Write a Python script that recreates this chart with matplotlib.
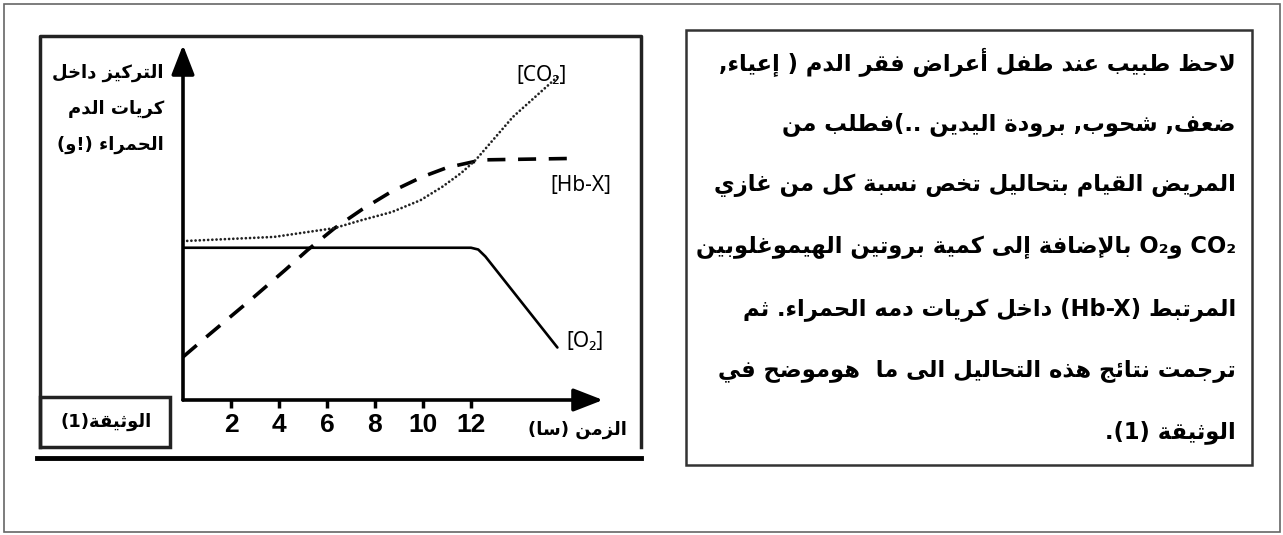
import re
import matplotlib
matplotlib.use('Agg')
import matplotlib.pyplot as plt
from matplotlib.patches import Rectangle
from matplotlib.lines import Line2D

W, H = 1283, 535

tick_hours = [2, 4, 6, 8, 10, 12]
o2_t = [0, 12.0, 12.3, 12.6, 15.6]
o2_c = [4.35, 4.35, 4.3, 4.1, 1.5]
hbx_t = [0, 1.04, 2.9, 4.25, 5.2, 6.3, 7.45, 8.7, 9.95, 11.0, 12.45, 16.05]
hbx_c = [1.23, 1.84, 2.91, 3.71, 4.29, 4.9, 5.44, 5.96, 6.37, 6.64, 6.86, 6.9]
co2_t = [0, 3.8, 6.3, 7.45, 8.7, 9.9, 10.8, 11.6, 12.2, 13.75, 15.6]
co2_c = [4.54, 4.66, 4.91, 5.14, 5.37, 5.71, 6.09, 6.49, 6.86, 8.09, 9.23]

y_label = ['التركيز داخل', 'كريات الدم', 'الحمراء (!و)']
x_label = 'الزمن (سا)'
doc_label = 'الوثيقة(1)'
paragraph = [
    'لاحظ طبيب عند طفل أعراض فقر الدم ( إعياء,',
    'ضعف, شحوب, برودة اليدين ..)فطلب من',
    'المريض القيام بتحاليل تخص نسبة كل من غازي',
    'CO\u2082 وO\u2082 بالإضافة إلى كمية بروتين الهيموغلوبين',
    'المرتبط (Hb-X) داخل كريات دمه الحمراء. ثم',
    'ترجمت نتائج هذه التحاليل الى ما  هوموضح في',
    'الوثيقة (1).',
]

# --- minimal arabic shaping + right-to-left ordering (no bidi lib available)
_tab = [(0x621, 0xFE80, 1), (0x622, 0xFE81, 2), (0x623, 0xFE83, 2), (0x624, 0xFE85, 2),
        (0x625, 0xFE87, 2), (0x626, 0xFE89, 4), (0x627, 0xFE8D, 2), (0x628, 0xFE8F, 4),
        (0x629, 0xFE93, 2), (0x62A, 0xFE95, 4), (0x62B, 0xFE99, 4), (0x62C, 0xFE9D, 4),
        (0x62D, 0xFEA1, 4), (0x62E, 0xFEA5, 4), (0x62F, 0xFEA9, 2), (0x630, 0xFEAB, 2),
        (0x631, 0xFEAD, 2), (0x632, 0xFEAF, 2), (0x633, 0xFEB1, 4), (0x634, 0xFEB5, 4),
        (0x635, 0xFEB9, 4), (0x636, 0xFEBD, 4), (0x637, 0xFEC1, 4), (0x638, 0xFEC5, 4),
        (0x639, 0xFEC9, 4), (0x63A, 0xFECD, 4), (0x641, 0xFED1, 4), (0x642, 0xFED5, 4),
        (0x643, 0xFED9, 4), (0x644, 0xFEDD, 4), (0x645, 0xFEE1, 4), (0x646, 0xFEE5, 4),
        (0x647, 0xFEE9, 4), (0x648, 0xFEED, 2), (0x649, 0xFEEF, 2), (0x64A, 0xFEF1, 4)]
FORMS = {chr(c): [chr(s + k) for k in range(n)] for c, s, n in _tab}
LAM_ALEF = {'\u0622': 0xFEF5, '\u0623': 0xFEF7, '\u0625': 0xFEF9, '\u0627': 0xFEFB}
MIRROR = str.maketrans('()[]', ')(][')


def shape(s):
    out, i, n = [], 0, len(s)
    while i < n:
        c = s[i]
        if c not in FORMS:
            out.append(c)
            i += 1
            continue
        prev = i > 0 and len(FORMS.get(s[i - 1], [])) == 4 and len(FORMS[c]) > 1
        if c == '\u0644' and i + 1 < n and s[i + 1] in LAM_ALEF:
            out.append(chr(LAM_ALEF[s[i + 1]] + (1 if prev else 0)))
            i += 2
            continue
        nxt = len(FORMS[c]) == 4 and i + 1 < n and len(FORMS.get(s[i + 1], [])) > 1
        out.append(FORMS[c][3 if prev and nxt else 1 if prev else 2 if nxt else 0])
        i += 1
    return ''.join(out)


def ar(s):
    parts = re.split(r'([A-Za-z0-9\u2082]+(?:-[A-Za-z0-9\u2082]+)*)', shape(s))
    out = []
    for j in range(len(parts) - 1, -1, -1):
        p = parts[j]
        out.append(p if j % 2 else p[::-1].translate(MIRROR))
    return ''.join(out)


def fx(x):
    return x / W


def fy(y):
    return 1 - y / H


fig = plt.figure(figsize=(W / 100, H / 100), dpi=100)
fig.patch.set_facecolor('white')
AR = ['DejaVu Sans']
NUM = ['Liberation Sans', 'DejaVu Sans']

# frames
fig.add_artist(Rectangle((fx(4), fy(532)), fx(1276), 528 / H, fill=False,
                         ec='#666666', lw=1.2, transform=fig.transFigure))
fig.add_artist(Line2D([fx(40), fx(40), fx(641), fx(641)], [fy(447), fy(36), fy(36), fy(447)],
                      color='#222222', lw=2.5, transform=fig.transFigure))
fig.add_artist(Line2D([fx(37), fx(641)], [fy(458), fy(458)], color='black', lw=3.5,
                      transform=fig.transFigure))
fig.add_artist(Rectangle((fx(40), fy(447)), fx(130), 50 / H, fill=False, ec='#222222', lw=2.5,
                         transform=fig.transFigure))
fig.add_artist(Rectangle((fx(686), fy(465)), fx(566), 435 / H, fill=False, ec='#333333', lw=1.8,
                         transform=fig.transFigure))

# chart
ax = fig.add_axes([fx(183), fy(400), fx(420), 355 / H])
ax.set_xlim(0, 17.5)
ax.set_ylim(0, 355 / 35)
for s in ax.spines.values():
    s.set_visible(False)
ax.patch.set_alpha(0)
ax.plot(o2_t, o2_c, color='black', lw=1.9, solid_capstyle='round')
ax.plot(hbx_t, hbx_c, color='black', lw=2.6, dashes=(5, 3.5))
ax.plot(co2_t, co2_c, color='#222222', lw=2.0, dashes=(0.01, 1.5), dash_capstyle='round')
arrow = dict(arrowstyle='-|>,head_length=0.9,head_width=0.35', lw=2.6, color='black',
             shrinkA=0, shrinkB=0, mutation_scale=20)
ax.annotate('', xy=(17.5, 0), xytext=(0, 0), arrowprops=arrow, annotation_clip=False)
ax.annotate('', xy=(0, 355 / 35), xytext=(0, 0), arrowprops=arrow, annotation_clip=False)
ax.set_xticks(tick_hours)
ax.set_xticklabels([str(t) for t in tick_hours], family=NUM, fontsize=19, fontweight='bold')
ax.tick_params(axis='x', direction='out', length=6, width=2.5, pad=3)
ax.set_yticks([])

# curve labels
lab = dict(family=['Noto Sans'], fontsize=15, ha='center', va='center', transform=fig.transFigure)
fig.text(fx(541), fy(75), '[CO\u2082]', **lab)
fig.text(fx(581), fy(186), '[Hb-X]', **lab)
fig.text(fx(585), fy(341), '[O\u2082]', **lab)

# arabic labels
for k, line in enumerate(y_label):
    fig.text(fx(164), fy(73 + 36 * k), ar(line), family=AR, fontsize=13, fontweight='bold',
             ha='right', va='center', transform=fig.transFigure)
fig.text(fx(627), fy(430), ar(x_label), family=AR, fontsize=13, fontweight='bold',
         ha='right', va='center', transform=fig.transFigure)
fig.text(fx(106), fy(422), ar(doc_label), family=AR, fontsize=13, fontweight='bold',
         ha='center', va='center', transform=fig.transFigure)

for k, line in enumerate(paragraph):
    fig.text(fx(1236), fy(62 + 61.7 * k), ar(line), family=AR, fontsize=16.3, fontweight='bold',
             ha='right', va='center', transform=fig.transFigure)

fig.savefig('out.png', dpi=100)
